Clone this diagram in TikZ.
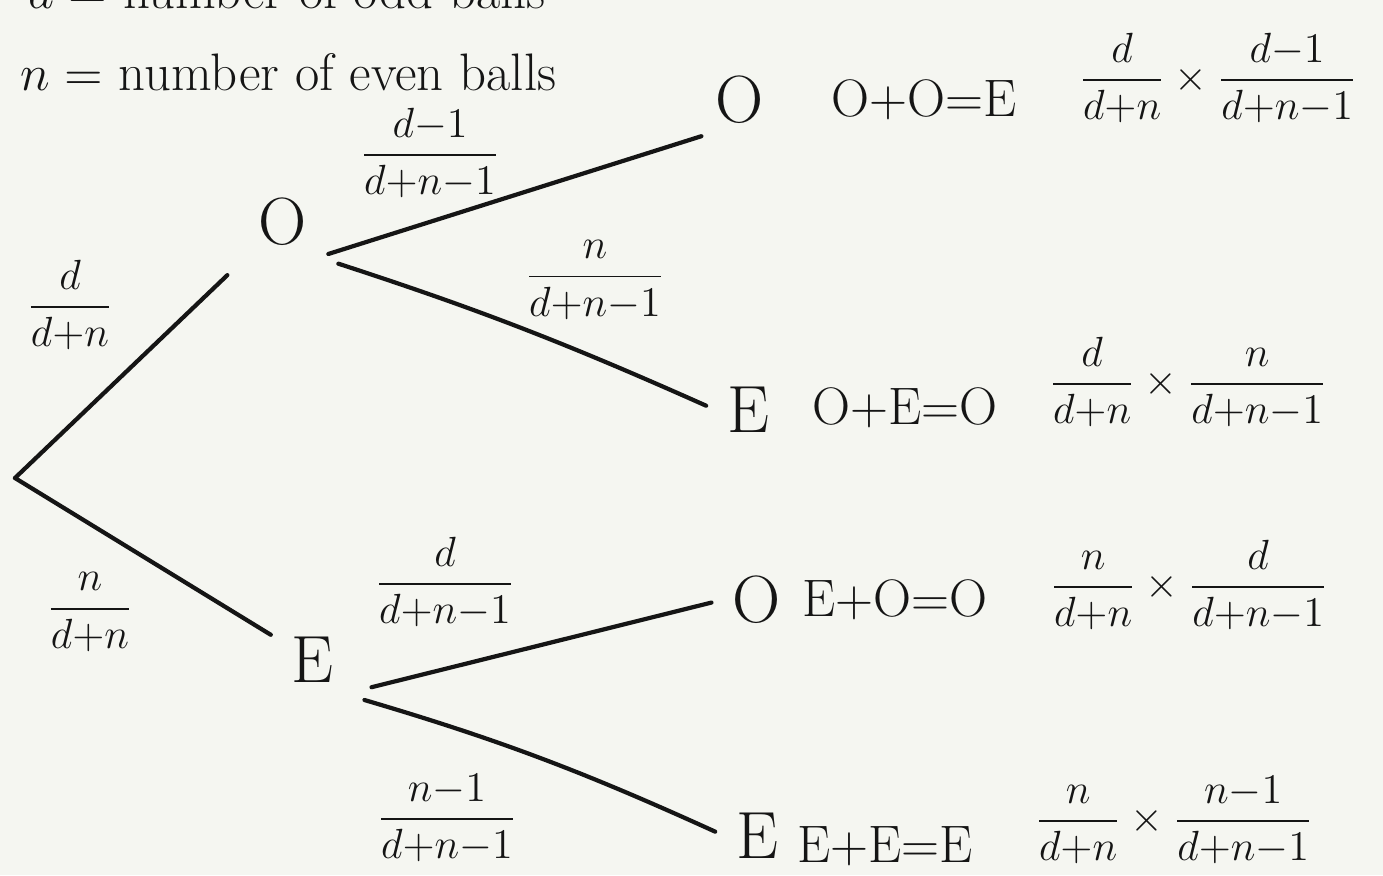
\documentclass[tikz,border=0pt]{standalone}
\usepackage{amsmath}
\usetikzlibrary{positioning}
\definecolor{PaperBg}{HTML}{F5F6F1}
\definecolor{InkBlack}{HTML}{151515}
\tikzset{
  state/.style={font=\fontsize{19}{22}\selectfont,inner sep=3pt,text=InkBlack},
  outcome/.style={font=\fontsize{15}{18}\selectfont,inner sep=1pt,text=InkBlack},
  prob/.style={font=\fontsize{12.5}{15}\selectfont,inner sep=1pt,text=InkBlack},
  note/.style={font=\fontsize{15}{18}\selectfont,inner sep=0pt,text=InkBlack},
  branch/.style={draw=InkBlack,line width=1.2pt,line cap=round}
}
\begin{document}
\begin{tikzpicture}[x=0.01cm,y=-0.01cm]
  \fill[PaperBg] (0,0) rectangle (1383,875);
  \useasboundingbox (0,0) rectangle (1383,875);
  \begin{scope}
    \clip (0,0) rectangle (1383,875);
    \node[note,anchor=base west] (dnote) at (28,8) {$d=$ number of odd balls};
  \end{scope}
  \node[note,anchor=base west] (nnote) at (20,90) {$n=$ number of even balls};
  % tree
  \coordinate (root) at (15,478);
  \node[state] (o1) at (283,222) {O};
  \node[state] (e1) at (312,660) {E};
  \node[state] (oo) at (740,100) {O};
  \node[state] (oe) at (748,410) {E};
  \node[state] (eo) at (757,600) {O};
  \node[state] (ee) at (757,836) {E};
  \draw[branch,shorten >=8pt] (root) -- (o1);
  \draw[branch,shorten >=3pt] (root) -- (e1);
  \draw[branch,shorten <=3pt,shorten >=1pt] (o1.south east) -- (oo.south west);
  \draw[branch,shorten <=6pt,shorten >=3pt] (o1.south east) to[bend left=3] (oe.west);
  \draw[branch,shorten <=8pt,shorten >=3pt] (e1.south east) -- (eo.west);
  \draw[branch,shorten <=6pt,shorten >=3pt] (e1.south east) to[bend left=4] (ee.west);
  % branch probabilities
  \node[prob] (p1) at (70,305) {$\dfrac{d}{d{+}n}$};
  \node[prob] (p2) at (90,612) {$\dfrac{n}{d{+}n}$};
  \node[prob] (p3) at (430,153) {$\dfrac{d{-}1}{d{+}n{-}1}$};
  \node[prob] (p4) at (595,280) {$\dfrac{n}{d{+}n{-}1}$};
  \node[prob] (p5) at (445,582) {$\dfrac{d}{d{+}n{-}1}$};
  \node[prob] (p6) at (447,818) {$\dfrac{n{-}1}{d{+}n{-}1}$};
  % outcomes
  \node[outcome] (ooSum) at (924,100) {O+O=E};
  \node[outcome] (oeSum) at (905,408) {O+E=O};
  \node[outcome] (eoSum) at (895,600) {E+O=O};
  \node[outcome] (eeSum) at (885,846) {E+E=E};
  \node[prob] (ooProd) at (1218,78) {$\dfrac{d}{d{+}n}\times\dfrac{d{-}1}{d{+}n{-}1}$};
  \node[prob] (oeProd) at (1188,382) {$\dfrac{d}{d{+}n}\times\dfrac{n}{d{+}n{-}1}$};
  \node[prob] (eoProd) at (1189,585) {$\dfrac{n}{d{+}n}\times\dfrac{d}{d{+}n{-}1}$};
  \node[prob] (eeProd) at (1174,820) {$\dfrac{n}{d{+}n}\times\dfrac{n{-}1}{d{+}n{-}1}$};
\end{tikzpicture}
\end{document}
